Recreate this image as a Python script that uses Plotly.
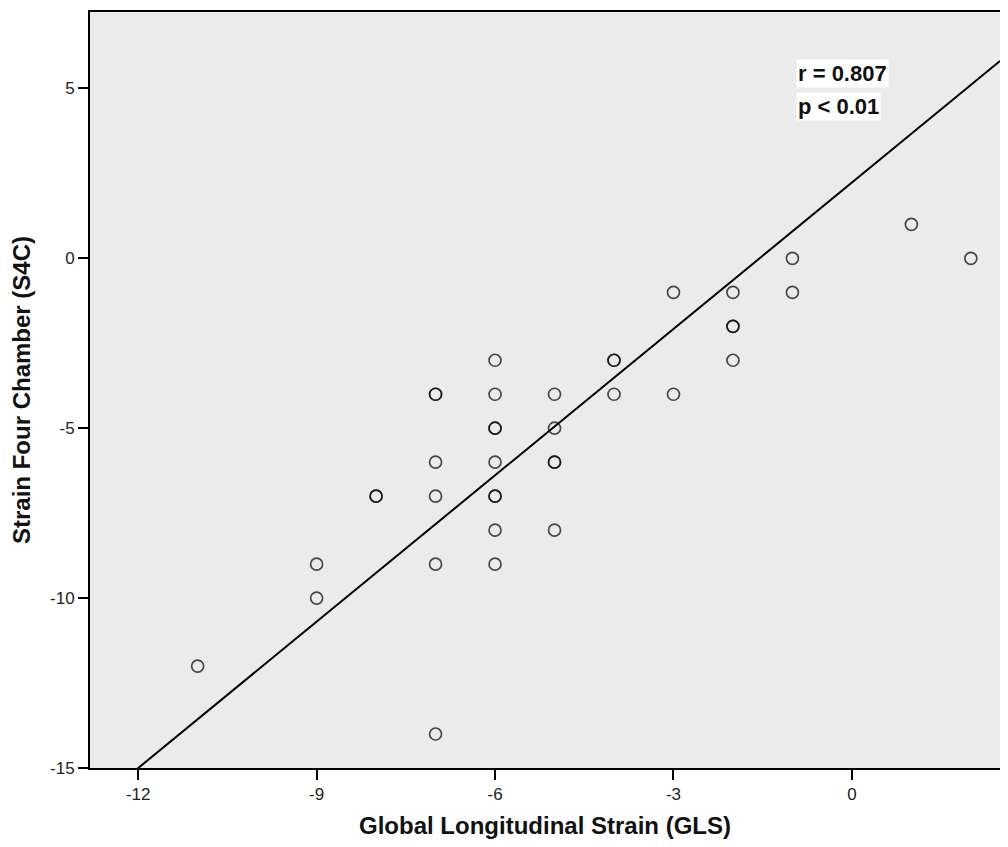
import plotly.graph_objects as go

# Data (duplicates appear as darker circles)
gls = [-11, -9, -9, -8, -8, -7, -7, -7, -7, -7, -7,
       -6, -6, -6, -6, -6, -6, -6, -6, -6,
       -5, -5, -5, -5, -5, -4, -4, -4, -3, -3,
       -2, -2, -2, -2, -1, -1, 1, 2]
s4c = [-12, -9, -10, -7, -7, -4, -4, -6, -7, -9, -14,
       -3, -4, -5, -5, -6, -7, -7, -8, -9,
       -4, -5, -6, -6, -8, -3, -3, -4, -1, -4,
       -1, -2, -2, -3, 0, -1, 1, 0]

fit_slope = 1.436
fit_intercept = 2.23
x_range = [-12.81, 2.49]
y_range = [-15, 7.25]
x_ticks = [-12, -9, -6, -3, 0]
x_ticktext = ["-12", "-9", "-6", "-3", "0"]
y_ticks = [-15, -10, -5, 0, 5]
y_ticktext = ["-15", "-10", "-5", "0", "5"]
stats_text = ["r = 0.807", "p < 0.01"]

fig = go.Figure()
fig.add_trace(go.Scatter(
    x=x_range, y=[fit_slope * v + fit_intercept for v in x_range],
    mode="lines", line=dict(color="black", width=2), hoverinfo="skip",
    showlegend=False))
fig.add_trace(go.Scatter(
    x=gls, y=s4c, mode="markers",
    marker=dict(symbol="circle-open", size=12,
                color="rgba(15,15,15,0.75)", line=dict(width=1.7)),
    showlegend=False, cliponaxis=True))

for txt, yv in zip(stats_text, [5.43, 4.48]):
    fig.add_annotation(x=-0.94, y=yv, xref="x", yref="y", text="<b>%s</b>" % txt,
                       showarrow=False, xanchor="left", yanchor="middle",
                       bgcolor="white", borderpad=1,
                       font=dict(family="Liberation Sans, Arial", size=22, color="#111"))

# page body has an 8px default margin, so the figure is sized to fit the window
fig.update_layout(
    width=992, height=831,
    margin=dict(l=82, r=0, t=4, b=68),
    paper_bgcolor="white", plot_bgcolor="#ebebeb",
    font=dict(family="Liberation Sans, Arial", color="#222"),
    xaxis=dict(range=x_range, tickvals=x_ticks, ticktext=x_ticktext,
               showgrid=False, zeroline=False,
               showline=True, linecolor="black", linewidth=2, mirror=True,
               ticks="outside", ticklen=10, tickwidth=2, tickcolor="black",
               tickfont=dict(size=17, color="#222"),
               title=dict(text="<b>Global Longitudinal Strain (GLS)</b>",
                          font=dict(size=24, color="#111"), standoff=18)),
    yaxis=dict(range=y_range, tickvals=y_ticks, ticktext=y_ticktext,
               showgrid=False, zeroline=False,
               showline=True, linecolor="black", linewidth=2,
               ticks="outside", ticklen=10, tickwidth=2, tickcolor="black",
               tickfont=dict(size=17, color="#222"),
               title=dict(text="<b>Strain Four Chamber (S4C)</b>",
                          font=dict(size=24, color="#111"), standoff=14)),
)

fig.write_html("out.html")
